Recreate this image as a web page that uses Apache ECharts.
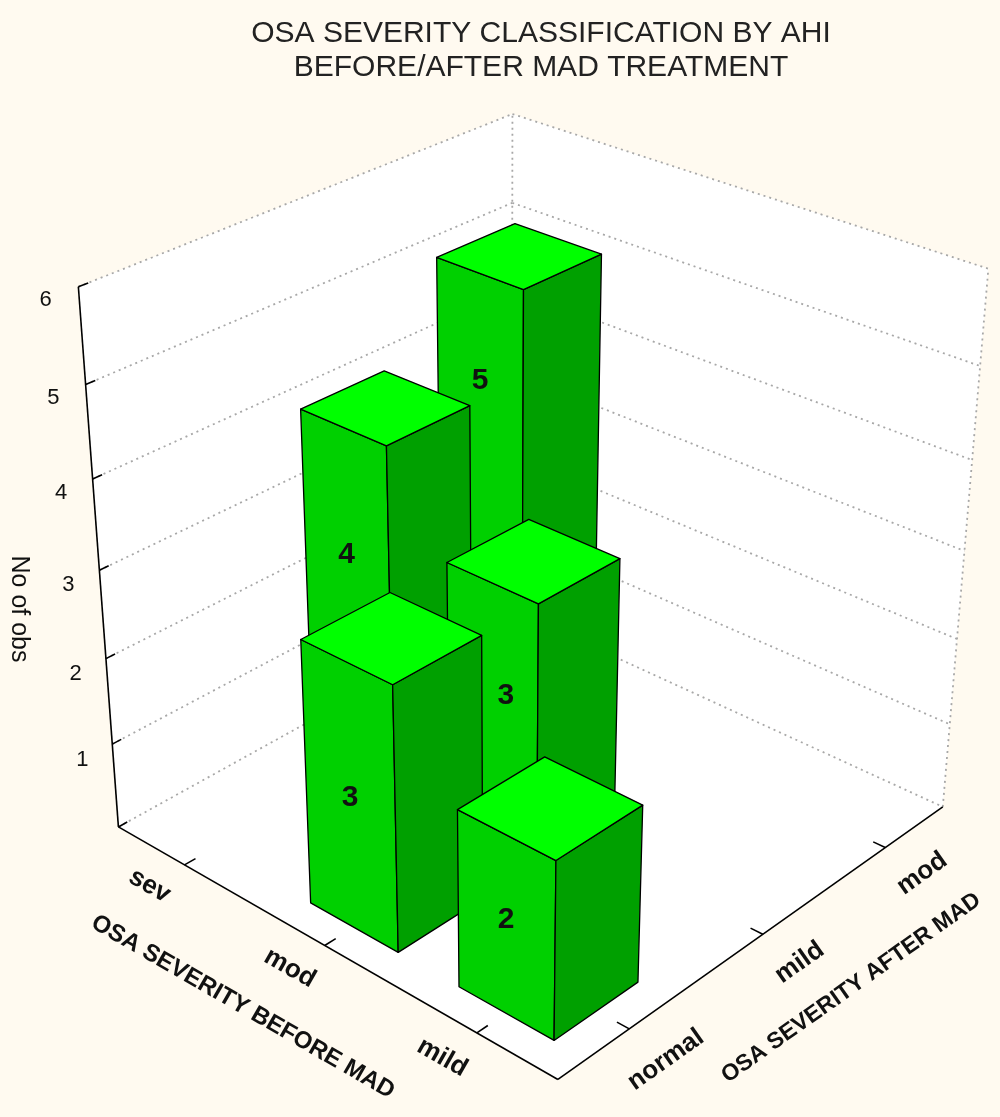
<!DOCTYPE html>
<html><head><meta charset="utf-8">
<script src="https://cdn.jsdelivr.net/npm/echarts@6/dist/echarts.min.js"></script>
<style>html,body{margin:0;padding:0;background:#FFFAF0}#c{width:1000px;height:1117px}</style>
</head><body><div id="c"></div>
<script>
// ---------------- data ----------------
const titleLines = ['OSA SEVERITY CLASSIFICATION BY AHI', 'BEFORE/AFTER MAD TREATMENT'];
const beforeCategories = ['sev', 'mod', 'mild'];
const afterCategories = ['normal', 'mild', 'mod'];
const countsSev = [0, 4, 5];   // after: normal, mild, mod
const countsMod = [3, 3, 0];
const countsMild = [2, 0, 0];
const zTickLabels = ['1', '2', '3', '4', '5', '6'];
const zMax = 6;
const beforeAxisName = 'OSA SEVERITY BEFORE MAD';
const afterAxisName = 'OSA SEVERITY AFTER MAD';
const zAxisName = 'No of obs';

// ---------------- layout / style ----------------
// camera calibration: box coords (u: before axis, v: after axis, w: height 0..1) -> page
const CALIB = [
  [0, 0, 0, 117, 828], [1, 0, 0, 557, 1082], [1, 1, 0, 945, 808],
  [0, 0, 1, 80, 287], [0, 1, 1, 512, 113], [1, 1, 1, 988, 272],
  [1 / 6, 0, 0, 188, 865], [0.5, 0, 0, 327, 947], [5 / 6, 0, 0, 480, 1033],
  [1, 1 / 6, 0, 625, 1028], [1, 0.5, 0, 762, 932], [1, 5 / 6, 0, 883, 847],
  [0, 0, 5 / 6, 85, 385], [0, 0, 0.5, 97, 570], [0, 0, 1 / 3, 105, 655],
  [0, 1, 5 / 6, 512, 205], [1, 1, 5 / 6, 982, 362]
];
const BAR_HALF = 0.1;
// value-label anchor on the visible part of each bar's front face: [u shift, height fraction], keyed "before,after"
const LABEL_ANCHOR = { '0,2': [0, 0.76], '0,1': [0, 0.64], '1,1': [0.03, 0.6], '1,0': [0, 0.5], '2,0': [0, 0.53] };
const FONT = '"Liberation Sans", Arial, sans-serif';
const COL = { top: '#00FF00', left: '#00D000', right: '#00A000', grid: '#A8A8A8', bg: '#FFFAF0' };

function fitProjection(pts) {
  const N = 11, S = 1000;
  const M = Array.from({ length: N }, () => new Array(N).fill(0));
  const r = new Array(N).fill(0);
  for (const [u, v, w, px, py] of pts) {
    const x = px / S, y = py / S;
    const rows = [[[u, v, w, 1, 0, 0, 0, 0, -x * u, -x * v, -x * w], x],
                  [[0, 0, 0, 0, u, v, w, 1, -y * u, -y * v, -y * w], y]];
    for (const [a, b] of rows) for (let i = 0; i < N; i++) {
      r[i] += a[i] * b;
      for (let j = 0; j < N; j++) M[i][j] += a[i] * a[j];
    }
  }
  for (let c = 0; c < N; c++) {
    let p = c;
    for (let i = c + 1; i < N; i++) if (Math.abs(M[i][c]) > Math.abs(M[p][c])) p = i;
    [M[c], M[p]] = [M[p], M[c]]; [r[c], r[p]] = [r[p], r[c]];
    for (let i = 0; i < N; i++) {
      if (i === c) continue;
      const f = M[i][c] / M[c][c];
      for (let j = c; j < N; j++) M[i][j] -= f * M[c][j];
      r[i] -= f * r[c];
    }
  }
  const p = r.map((v, i) => v / M[i][i]);
  return (u, v, w) => {
    const d = p[8] * u + p[9] * v + p[10] * w + 1;
    return [S * (p[0] * u + p[1] * v + p[2] * w + p[3]) / d, S * (p[4] * u + p[5] * v + p[6] * w + p[7]) / d];
  };
}
const project = fitProjection(CALIB);

const countsByBefore = [countsSev, countsMod, countsMild];
const barData = [];
countsByBefore.forEach((row, i) => row.forEach((c, j) => { if (c > 0) barData.push([i, j, c]); }));
// painter's order: farthest (small u, large v) first
barData.sort((a, b) => (a[0] - a[1]) - (b[0] - b[1]));

const chart = echarts.init(document.getElementById('c'), null, { renderer: 'canvas' });

function mkP(api) { return (u, v, w) => api.coord(project(u, v, w)); }
function line(a, b, style) { return { type: 'line', shape: { x1: a[0], y1: a[1], x2: b[0], y2: b[1] }, style: style }; }
function text(pt, str, rot, style) {
  return { type: 'text', x: pt[0], y: pt[1], rotation: rot || 0,
    style: Object.assign({ text: str, align: 'center', verticalAlign: 'middle', fill: '#111', fontFamily: FONT }, style) };
}

function renderFrame(params, api) {
  const P = mkP(api);
  const ch = [];
  const poly = (pts, fill) => ({ type: 'polygon', shape: { points: pts }, style: { fill: fill, stroke: null } });
  ch.push(poly([P(0, 0, 0), P(1, 0, 0), P(1, 1, 0), P(0, 1, 0)], '#fff'));
  ch.push(poly([P(0, 0, 0), P(0, 1, 0), P(0, 1, 1), P(0, 0, 1)], '#fff'));
  ch.push(poly([P(0, 1, 0), P(1, 1, 0), P(1, 1, 1), P(0, 1, 1)], '#fff'));
  const dot = { stroke: COL.grid, lineWidth: 1.8, lineDash: [2, 4] };
  for (let k = 0; k <= zMax; k++) {
    const w = k / zMax;
    ch.push(line(P(0, 0, w), P(0, 1, w), dot));
    ch.push(line(P(0, 1, w), P(1, 1, w), dot));
  }
  ch.push(line(P(0, 1, 0), P(0, 1, 1), dot));
  ch.push(line(P(1, 1, 0), P(1, 1, 1), dot));
  const solid = { stroke: '#000', lineWidth: 1.6 };
  ch.push(line(P(0, 0, 0), P(0, 0, 1), solid));
  ch.push(line(P(0, 0, 0), P(1, 0, 0), solid));
  ch.push(line(P(1, 0, 0), P(1, 1, 0), solid));
  // z ticks + labels
  for (let k = 0; k <= zMax; k++) {
    const w = k / zMax;
    ch.push(line(P(0, 0, w), P(0, 0.02, w), solid));
    if (k > 0) ch.push(text(P(0, -0.066, w), zTickLabels[k - 1], 0, { fontSize: 22 }));
  }
  // before axis
  const b0 = P(0, 0, 0), b1 = P(1, 0, 0);
  const rotB = -Math.atan2(b1[1] - b0[1], b1[0] - b0[0]);
  beforeCategories.forEach((c, i) => {
    const uc = (i + 0.5) / 3;
    ch.push(line(P(uc, 0, 0), P(uc, 0.025, 0), solid));
    ch.push(text(P(uc + 0.002, -0.08, 0), c, rotB, { fontSize: 26, fontWeight: 'bold' }));
  });
  ch.push(text(P(0.52, -0.2, 0), beforeAxisName, rotB, { fontSize: 24, fontWeight: 'bold' }));
  // after axis
  const a0 = P(1, 0, 0), a1 = P(1, 1, 0);
  const rotA = -Math.atan2(a1[1] - a0[1], a1[0] - a0[0]);
  afterCategories.forEach((c, j) => {
    const vc = (j + 0.5) / 3;
    ch.push(line(P(1, vc, 0), P(0.975, vc, 0), solid));
    ch.push(text(P(1.09, vc - 0.02, 0), c, rotA, { fontSize: 26, fontWeight: 'bold' }));
  });
  ch.push(text(P(1.19, 0.482, 0), afterAxisName, rotA, { fontSize: 23, fontWeight: 'bold' }));
  // z axis name
  ch.push(text(P(0, -0.17, 0.5), zAxisName, -Math.PI / 2, { fontSize: 25 }));
  return { type: 'group', children: ch };
}

function renderBar(params, api) {
  const P = mkP(api);
  const i = api.value(0), j = api.value(1), c = api.value(2);
  const uc = (i + 0.5) / 3, vc = (j + 0.5) / 3, h = c / zMax, hw = BAR_HALF;
  const u0 = uc - hw, u1 = uc + hw, v0 = vc - hw, v1 = vc + hw;
  const edge = { stroke: '#000', lineWidth: 1.3, lineJoin: 'round' };
  const face = (pts, fill) => ({ type: 'polygon', shape: { points: pts }, style: Object.assign({ fill: fill }, edge) });
  const anc = LABEL_ANCHOR[i + ',' + j] || [0, 0.5];
  return {
    type: 'group', children: [
      face([P(u0, v0, 0), P(u1, v0, 0), P(u1, v0, h), P(u0, v0, h)], COL.left),
      face([P(u1, v0, 0), P(u1, v1, 0), P(u1, v1, h), P(u1, v0, h)], COL.right),
      face([P(u0, v0, h), P(u1, v0, h), P(u1, v1, h), P(u0, v1, h)], COL.top),
      text(P(uc + anc[0], v0, h * anc[1]), String(c), 0, { fontSize: 30, fontWeight: 'bold', fill: '#111' })
    ]
  };
}

chart.setOption({
  backgroundColor: COL.bg,
  animation: false,
  title: {
    text: titleLines.join('\n'), left: 536, top: 12, textAlign: 'center',
    textStyle: { fontFamily: FONT, fontSize: 30, fontWeight: 'normal', color: '#222', lineHeight: 34 }
  },
  grid: { left: 0, right: 0, top: 0, bottom: 0 },
  xAxis: { type: 'value', min: 0, max: 1000, show: false },
  yAxis: { type: 'value', min: 0, max: 1117, inverse: true, show: false },
  series: [
    { type: 'custom', coordinateSystem: 'cartesian2d', clip: false, silent: true, data: [[0, 0]], renderItem: renderFrame, z: 1 },
    { type: 'custom', coordinateSystem: 'cartesian2d', clip: false, silent: true, data: barData, renderItem: renderBar, z: 2 }
  ]
});
</script></body></html>
